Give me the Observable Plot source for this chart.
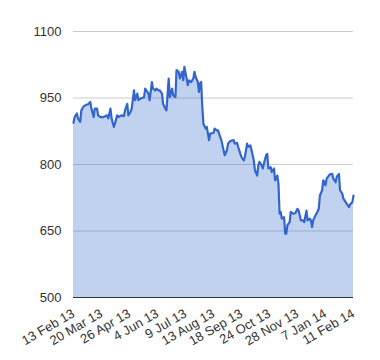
<!DOCTYPE html>
<html>
<head>
<meta charset="utf-8">
<script src="https://cdn.jsdelivr.net/npm/d3@7"></script>
<script src="https://cdn.jsdelivr.net/npm/@observablehq/plot@0.6"></script>
<style>
  html, body { margin: 0; padding: 0; background: #fff; }
  #chart { width: 380px; height: 360px; }
</style>
</head>
<body>
<div id="chart"></div>
<script>
// trading-day index (0 = 13 Feb 13, 250 = 11 Feb 14)
const days = [0,1,3,4,6,7,9,11,13,15,16,18,19,21,22,24,27,30,31,33,34,36,37,39,40,43,45,46,48,49,51,52,54,55,57,58,60,63,64,65,67,68,70,71,73,74,76,77,79,80,82,83,85,86,88,89,91,92,94,95,97,98,99,101,102,103,105,107,108,109,111,112,113,114,115,116,118,119,121,122,125,126,128,129,131,132,134,135,137,138,140,143,144,146,147,149,150,152,153,155,156,158,159,161,162,164,165,166,168,169,170,172,173,174,176,177,179,180,182,183,184,185,186,188,189,190,191,193,194,196,198,200,201,203,205,206,208,209,211,212,213,214,216,217,219,220,222,223,224,225,226,228,229,231,232,234,235,237,238,240,241,243,244,246,247,249,250];
const prices = [894,907,915,904,896,922,931,934,936,941,926,907,926,926,911,907,907,911,904,926,904,885,892,911,907,911,909,922,937,911,919,926,967,945,960,945,949,952,971,967,960,945,986,971,967,971,967,967,960,937,926,922,994,952,971,956,952,1013,1009,994,1009,990,1020,994,979,990,986,994,1009,998,986,964,983,986,930,892,881,885,855,870,871,881,877,877,862,855,832,821,832,847,853,855,847,849,840,824,817,809,817,847,840,843,832,809,787,775,798,806,798,791,802,821,824,791,794,783,791,764,775,757,689,693,678,681,644,644,663,670,693,689,690,700,696,674,674,670,696,674,678,674,659,674,685,689,700,730,742,764,760,753,768,775,778,779,768,760,772,779,742,734,723,715,711,704,710,715,730];
const tickDays = [0,25,50,75,100,125,150,175,200,225,250];
const tickLabels = ["13 Feb 13","20 Mar 13","26 Apr 13","4 Jun 13","9 Jul 13","13 Aug 13","18 Sep 13","24 Oct 13","28 Nov 13","7 Jan 14","11 Feb 14"];
const yTicks = [500,650,800,950,1100];

const data = days.map((d, i) => ({day: d, price: prices[i]}));
const labelOf = new Map(tickDays.map((d, i) => [d, tickLabels[i]]));

const chart = Plot.plot({
  width: 380,
  height: 360,
  marginLeft: 73,
  marginRight: 27,
  marginTop: 31,
  marginBottom: 63,
  style: {fontFamily: "Arial, 'Liberation Sans', sans-serif", fontSize: "13px", color: "#222", background: "#fff"},
  x: {domain: [0, 250], label: null},
  y: {domain: [500, 1100], label: null},
  marks: [
    Plot.gridY(yTicks.slice(1), {stroke: "#cccccc", strokeOpacity: 1}),
    Plot.areaY(data, {x: "day", y1: 500, y2: "price", fill: "#3366cc", fillOpacity: 0.3}),
    Plot.line(data, {x: "day", y: "price", stroke: "#3366cc", strokeWidth: 2.2}),
    Plot.ruleY([500], {stroke: "#333333", strokeWidth: 1}),
    Plot.axisY(yTicks, {tickSize: 0, tickPadding: 12, fontSize: 13, fill: "#333", tickFormat: d => String(d), label: null}),
    Plot.axisX(tickDays, {tickSize: 0, tickPadding: 15, tickRotate: -30, fontSize: 13, fill: "#333", tickFormat: d => labelOf.get(d), label: null})
  ]
});
document.getElementById("chart").appendChild(chart);
</script>
</body>
</html>
